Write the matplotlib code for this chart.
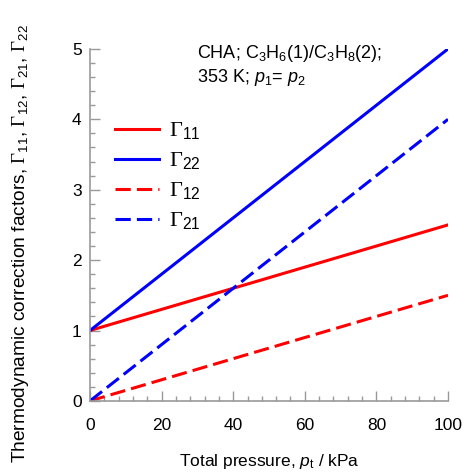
import matplotlib
matplotlib.use("Agg")
import matplotlib.pyplot as plt
from matplotlib.ticker import MultipleLocator

plt.rcParams['font.family'] = ['Liberation Sans', 'DejaVu Sans']
plt.rcParams['mathtext.fontset'] = 'custom'
plt.rcParams['mathtext.rm'] = 'Liberation Serif'
plt.rcParams['mathtext.sf'] = 'Liberation Sans'
plt.rcParams['mathtext.it'] = 'Liberation Sans:italic'

pressure = [0, 100]
gamma11 = [1.0, 2.5]
gamma22 = [1.0, 5.0]
gamma12 = [0.0, 1.5]
gamma21 = [0.0, 4.0]

fig = plt.figure(figsize=(4.64, 4.75), dpi=100)
ax = fig.add_axes([0.194, 0.156, 0.7715, 0.741])

lw = 2.2
ax.plot(pressure, gamma11, color='#ff0000', lw=lw, label=r'$\Gamma_\mathsf{11}$')
ax.plot(pressure, gamma22, color='#0000ff', lw=lw, label=r'$\Gamma_\mathsf{22}$')
ax.plot(pressure, gamma12, color='#ff0000', lw=lw, dashes=(5, 2), label=r'$\Gamma_\mathsf{12}$')
ax.plot(pressure, gamma21, color='#0000ff', lw=lw, dashes=(5, 2), label=r'$\Gamma_\mathsf{21}$')

ax.set_xlim(0, 100)
ax.set_ylim(0, 5)
ax.xaxis.set_major_locator(MultipleLocator(20))
ax.xaxis.set_minor_locator(MultipleLocator(4))
ax.yaxis.set_major_locator(MultipleLocator(1))
ax.yaxis.set_minor_locator(MultipleLocator(0.2))

for s in ['top', 'right']:
    ax.spines[s].set_visible(False)
for s in ['left', 'bottom']:
    ax.spines[s].set_color('#999999')
    ax.spines[s].set_linewidth(1.2)

ax.tick_params(which='both', direction='in', color='#999999', width=1.0, labelsize=12.5)
ax.tick_params(which='major', length=7)
ax.tick_params(axis='y', which='major', pad=6)
ax.tick_params(axis='x', which='major', pad=12)
ax.tick_params(which='minor', length=3.5)

ax.set_xlabel(r'Total pressure, $\mathit{p}_\mathsf{t}$ / kPa', fontsize=12.5, labelpad=14)
fig.text(0.045, 0.487,
         r'Thermodynamic correction factors, $\Gamma_\mathsf{11}$, $\Gamma_\mathsf{12}$, $\Gamma_\mathsf{21}$, $\Gamma_\mathsf{22}$',
         fontsize=13.8, rotation=90, ha='center', va='center')

ax.text(0.299, 0.974, r'CHA; C$_\mathsf{3}$H$_\mathsf{6}$(1)/C$_\mathsf{3}$H$_\mathsf{8}$(2);',
        transform=ax.transAxes, fontsize=13, va='baseline', ha='left')
ax.text(0.299, 0.906, r'353 K; $\mathit{p}_\mathsf{1}$= $\mathit{p}_\mathsf{2}$',
        transform=ax.transAxes, fontsize=13, va='baseline', ha='left')

leg = ax.legend(loc='upper left', bbox_to_anchor=(0.045, 0.822), frameon=False, fontsize=16,
                handlelength=2.0, handletextpad=0.45, labelspacing=0.38, borderaxespad=0)

fig.savefig('out.png', dpi=100)
